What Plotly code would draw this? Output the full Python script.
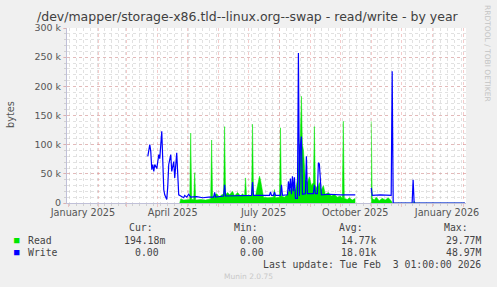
import plotly.graph_objects as go

# ---------------- data (values in kilobytes) ----------------
write_dates = ["2025-03-22","2025-03-24","2025-03-25","2025-03-26","2025-03-27","2025-03-28","2025-03-29","2025-03-31",
               "2025-04-02","2025-04-03","2025-04-05","2025-04-06","2025-04-07","2025-04-08","2025-04-10","2025-04-11",
               "2025-04-12","2025-04-14","2025-04-15","2025-04-17","2025-04-18","2025-04-20","2025-04-21","2025-04-22",
               "2025-04-24","2025-04-27","2025-04-28","2025-04-30","2025-05-02","2025-05-04","2025-05-10","2025-05-16",
               "2025-05-22","2025-05-27","2025-05-28","2025-05-29","2025-06-06","2025-06-07","2025-06-08","2025-06-20",
               "2025-06-30","2025-07-04","2025-07-05","2025-07-06","2025-07-22","2025-07-23","2025-07-24","2025-07-26",
               "2025-07-27","2025-07-28","2025-08-02","2025-08-03","2025-08-04","2025-08-09","2025-08-10","2025-08-11",
               "2025-08-12","2025-08-13","2025-08-14","2025-08-15","2025-08-16","2025-08-17","2025-08-19","2025-08-20",
               "2025-08-21","2025-08-22","2025-08-23","2025-08-24","2025-08-27","2025-08-28","2025-08-29","2025-09-04",
               "2025-09-05","2025-09-06","2025-09-08","2025-09-09","2025-09-10","2025-09-11","2025-09-12","2025-09-20",
               "2025-10-01","2025-10-16","2025-10-24","2025-11-01","2025-11-02","2025-11-10","2025-11-21","2025-11-22",
               "2025-11-23","2025-12-12","2025-12-13","2025-12-14","2026-02-03"]
write_k = [80,100,88,57,66,54,66,59,
           83,76,123,73,23,14,6,28,
           66,83,54,71,43,86,46,14,
           12,9,13,10,15,10,11,9,
           10,10,18,10,12,31,12,12,
           12,13,36,13,13,19,13,13,
           19,13,13,31,13,14,37,20,
           42,15,46,20,44,8,8,257,
           12,100,114,15,16,80,16,16,
           31,16,16,69,67,31,14,15,
           14,14,None,26,13,14,13,226,
           0,0,40,0,0]

read_dates = ["2025-04-23","2025-04-24","2025-04-27","2025-04-30","2025-05-03","2025-05-04","2025-05-05","2025-05-07",
              "2025-05-08","2025-05-09","2025-05-14","2025-05-19","2025-05-24","2025-05-25","2025-05-26","2025-05-27",
              "2025-05-30","2025-06-02","2025-06-04","2025-06-06","2025-06-07","2025-06-08","2025-06-10","2025-06-12",
              "2025-06-15","2025-06-17","2025-06-20","2025-06-23","2025-06-25","2025-06-27","2025-06-28","2025-06-29",
              "2025-07-01","2025-07-04","2025-07-05","2025-07-06","2025-07-08","2025-07-10","2025-07-12","2025-07-13",
              "2025-07-15","2025-07-16","2025-07-20","2025-07-24","2025-07-26","2025-07-27","2025-07-28","2025-08-01",
              "2025-08-02","2025-08-03","2025-08-06","2025-08-09","2025-08-11","2025-08-13","2025-08-15","2025-08-17",
              "2025-08-19","2025-08-21","2025-08-22","2025-08-23","2025-08-24","2025-08-25","2025-08-26","2025-08-27",
              "2025-08-29","2025-08-31","2025-09-02","2025-09-04","2025-09-05","2025-09-06","2025-09-08","2025-09-10",
              "2025-09-12","2025-09-14","2025-09-16","2025-09-19","2025-09-22","2025-09-25","2025-09-28","2025-10-01",
              "2025-10-03","2025-10-04","2025-10-05","2025-10-08","2025-10-10","2025-10-13","2025-10-16","2025-10-24",
              "2025-11-01","2025-11-02","2025-11-04","2025-11-06","2025-11-09","2025-11-12","2025-11-15","2025-11-18",
              "2025-11-21","2025-11-22","2025-12-13","2025-12-14","2025-12-15","2026-02-03"]
read_k = [0,7,5,6,6,120,6,6,
          52,5,6,5,7,108,8,12,
          16,10,14,15,131,14,18,14,
          20,12,18,12,16,12,43,12,
          14,12,135,14,12,30,46,40,
          20,10,9,10,10,23,9,10,
          129,12,10,15,25,20,28,22,
          40,90,120,183,100,91,60,40,
          35,45,30,35,131,30,25,35,
          22,30,15,18,12,15,10,12,
          8,140,8,6,9,5,8,None,
          140,8,5,10,4,8,5,9,
          4,0,0,3,0,0]

# tick / label definitions
month_starts = ["2025-01-01","2025-02-01","2025-03-01","2025-04-01","2025-05-01","2025-06-01","2025-07-01",
                "2025-08-01","2025-09-01","2025-10-01","2025-11-01","2025-12-01","2026-01-01","2026-02-01"]
x_label_pos = ["2025-01-16","2025-04-16","2025-07-16","2025-10-16","2026-01-16"]
x_labels = ["January 2025","April 2025","July 2025","October 2025","January 2026"]
y_ticks = [0, 50000, 100000, 150000, 200000, 250000, 300000]
y_labels = ["0", "50 k", "100 k", "150 k", "200 k", "250 k", "300 k"]
x_range = ["2024-12-31", "2026-02-04"]

legend_header = ["Cur:", "Min:", "Avg:", "Max:"]
read_stats = ["194.18m", "0.00", "14.77k", "29.77M"]
write_stats = ["0.00", "0.00", "18.01k", "48.97M"]

GREEN = "#00E600"
BLUE = "#0000FF"


def segments(dates, vals):
    """Split a series at None gaps into separate (x, y) pieces (values to bytes)."""
    out, xs, ys = [], [], []
    for d, v in zip(dates, vals):
        if v is None:
            if xs:
                out.append((xs, ys))
            xs, ys = [], []
        else:
            xs.append(d)
            ys.append(v * 1000)
    if xs:
        out.append((xs, ys))
    return out


fig = go.Figure()
for xs, ys in segments(read_dates, read_k):
    fig.add_trace(go.Scatter(x=xs, y=ys, mode="lines", fill="tozeroy",
                             line=dict(color=GREEN, width=0.5), fillcolor=GREEN,
                             name="Read", showlegend=False, hoverinfo="skip"))
for xs, ys in segments(write_dates, write_k):
    fig.add_trace(go.Scatter(x=xs, y=ys, mode="lines", xaxis="x2",
                             line=dict(color=BLUE, width=1.2),
                             name="Write", showlegend=False, hoverinfo="skip"))

# plot geometry in pixels (for placing text)
W, H = 497, 287
L, R, T, B = 67, 31, 28, 84
PW, PH = W - L - R, H - T - B


def px(x):
    return (x - L) / PW


def py(y):
    return (H - B - y) / PH


red_grid = "rgba(230,140,140,0.45)"
gray_grid = "rgba(200,200,200,0.55)"
axis_col = "#C0C0D8"
txt = "#555555"

fig.update_layout(
    width=W, height=H,
    margin=dict(l=L, r=R, t=T, b=B, pad=0),
    paper_bgcolor="#F0F0F0", plot_bgcolor="#FFFFFF",
    font=dict(family="DejaVu Sans", size=10, color=txt),
    xaxis=dict(type="date", range=x_range, tickmode="array", tickvals=month_starts,
               ticktext=[""] * len(month_starts), showgrid=True, gridcolor=red_grid,
               griddash="dot", gridwidth=1, ticks="outside", ticklen=3, tickcolor=red_grid,
               showline=True, linecolor=axis_col, linewidth=1, zeroline=False,
               minor=dict(tick0="2025-01-03", dtick=7 * 86400000, showgrid=True,
                          gridcolor=gray_grid, griddash="dot", ticks="outside", ticklen=2,
                          tickcolor="#D0D0D0"),
               fixedrange=True),
    xaxis2=dict(type="date", range=x_range, overlaying="x", anchor="y", side="bottom",
                tickmode="array", tickvals=x_label_pos, ticktext=x_labels, showgrid=False,
                ticks="", showline=False, zeroline=False, ticklabelstandoff=2,
                tickfont=dict(family="DejaVu Sans", size=9.7, color=txt)),
    yaxis=dict(range=[0, 300000], tickmode="array", tickvals=y_ticks, ticktext=y_labels,
               showgrid=True, gridcolor=red_grid, griddash="dot", gridwidth=1,
               ticks="outside", ticklen=3, tickcolor=red_grid,
               showline=True, linecolor=axis_col, linewidth=1, zeroline=False,
               tickfont=dict(family="DejaVu Sans", size=9.5, color=txt),
               minor=dict(dtick=10000, showgrid=True, gridcolor=gray_grid, griddash="dot",
                          ticks="outside", ticklen=2, tickcolor="#D0D0D0"),
               fixedrange=True),
    showlegend=False,
)

ann = []


def add_text(text, x, y, xanchor="center", size=10, color=txt, family="DejaVu Sans", angle=0):
    ann.append(dict(text=text, x=px(x), y=py(y), xref="paper", yref="paper",
                    xanchor=xanchor, yanchor="middle", showarrow=False, textangle=angle,
                    font=dict(family=family, size=size, color=color)))


add_text("/dev/mapper/storage-x86.tld--linux.org--swap - read/write - by year", 248.3, 16.5,
         size=12.5, color="#404040")
add_text("bytes", 10, 115, size=9.7, angle=-90)
add_text("RRDTOOL / TOBI OETIKER", 488, 53, size=7.5, color="#C4C4C4", angle=90)

MONO = "DejaVu Sans Mono"
ms = 9.8
lc = "#444444"
header_x = [154.5, 259.5, 365, 470]
for h, x in zip(legend_header, header_x):
    add_text(h, x, 227.5, xanchor="right", size=ms, color=lc, family=MONO)
read_x = [167, 266, 378, 483]
write_x = [161, 266, 378, 483]
add_text("■", 17, 240, size=9, color=GREEN, family=MONO)
add_text("Read", 26, 240, xanchor="left", size=ms, color=lc, family=MONO)
for s, x in zip(read_stats, read_x):
    add_text(s, x, 240, xanchor="right", size=ms, color=lc, family=MONO)
add_text("■", 17, 252, size=9, color=BLUE, family=MONO)
add_text("Write", 26, 252, xanchor="left", size=ms, color=lc, family=MONO)
for s, x in zip(write_stats, write_x):
    add_text(s, x, 252, xanchor="right", size=ms, color=lc, family=MONO)
add_text("Last update: Tue Feb  3 01:00:00 2026", 483, 264, xanchor="right", size=ms,
         color=lc, family=MONO)
add_text("Munin 2.0.75", 248, 276.5, size=7.5, color="#C8C8C8")

fig.update_layout(annotations=ann)
fig.write_html("out.html")
